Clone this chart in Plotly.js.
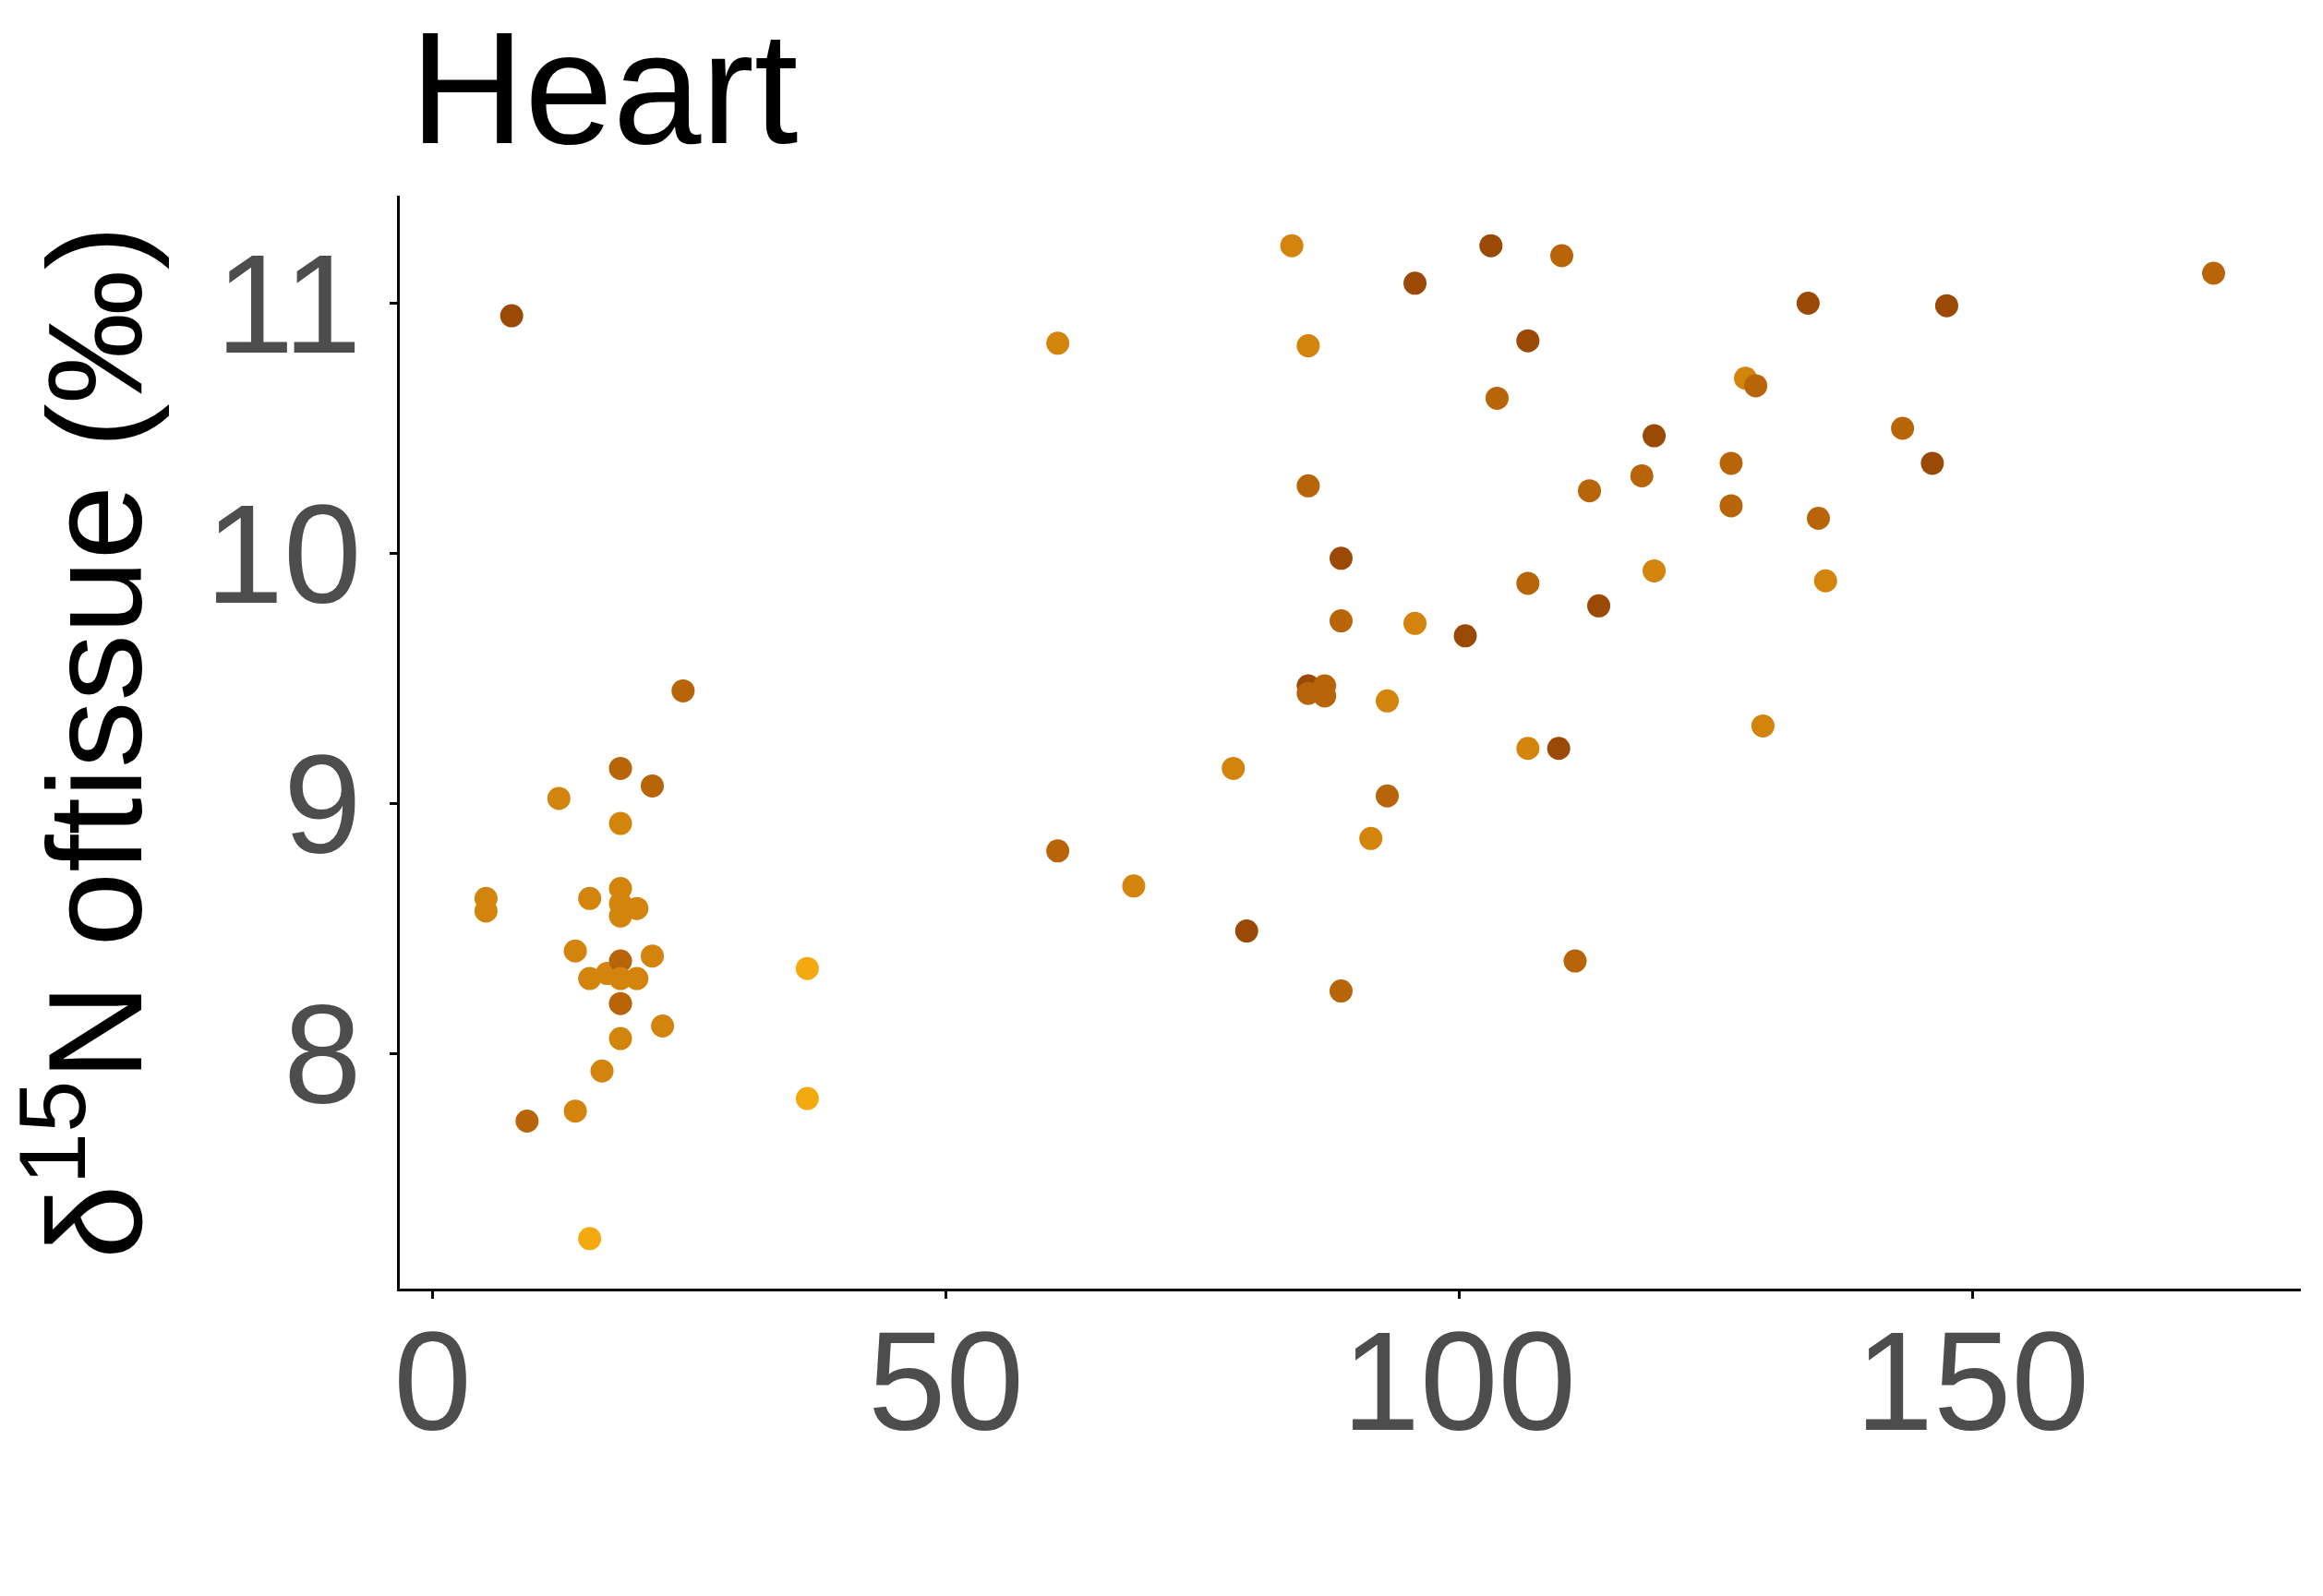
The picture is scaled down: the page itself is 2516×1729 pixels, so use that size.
<!DOCTYPE html>
<html><head><meta charset="utf-8">
<script src="https://cdn.plot.ly/plotly-3.0.1.min.js"></script>
<style>body{margin:0;background:#fff}</style></head>
<body><div id="c" style="width:2516px;height:1729px"></div>
<script>
const xVals=[7.7,5.2,5.2,9.2,12.3,13.9,13.9,15.3,15.3,15.3,16.5,17.0,18.3,18.3,18.3,18.3,18.3,18.3,18.3,18.3,18.3,19.9,19.9,21.4,21.4,22.4,24.4,36.5,36.5,60.9,60.9,68.3,78.0,79.3,83.7,85.3,85.3,85.3,85.3,86.9,86.9,88.5,88.5,88.5,91.4,93.0,93.0,95.7,95.7,100.6,103.1,103.7,106.7,106.7,106.7,109.7,110.0,111.3,112.7,113.6,117.8,119.0,119.0,126.5,126.5,127.9,128.9,129.6,134.0,135.0,135.7,143.2,146.1,147.5,173.5];
const yVals=[10.95,8.62,8.57,7.73,9.02,8.41,7.77,8.62,8.30,7.26,7.93,8.32,9.14,8.92,8.66,8.60,8.55,8.37,8.30,8.20,8.06,8.58,8.30,9.07,8.39,8.11,9.45,8.34,7.82,10.84,8.81,8.67,9.14,8.49,11.23,10.83,10.27,9.47,9.44,9.47,9.43,9.98,9.73,8.25,8.86,9.41,9.03,11.08,9.72,9.67,11.23,10.62,10.85,9.88,9.22,9.22,11.19,8.37,10.25,9.79,10.31,10.47,9.93,10.36,10.19,10.70,10.67,9.31,11.00,10.14,9.89,10.50,10.36,10.99,11.12];
// shade level 0 = dark brown ... 3 = bright yellow
const shade=[0,2,2,1,2,2,2,2,2,3,2,2,1,2,2,2,2,1,2,1,2,2,2,1,2,2,1,3,3,2,1,2,2,0,2,2,1,0,1,1,1,0,1,1,2,2,1,0,2,0,0,1,0,1,2,0,1,1,1,0,1,0,2,1,1,2,1,2,0,1,2,1,0,0,1];
const palette=['#9a4a05','#b8650a','#d2840d','#f2aa10'];
Plotly.newPlot('c',[{x:xVals,y:yVals,mode:'markers',type:'scatter',
 marker:{size:25,color:shade.map(s=>palette[s])}}],{
 width:2516,height:1729,paper_bgcolor:'#fff',plot_bgcolor:'#fff',
 margin:{l:433,r:24,t:212,b:333},
 font:{family:'Liberation Sans, Arial, sans-serif'},
 title:{text:'Heart',x:444/2516,xanchor:'left',xref:'container',y:0.945,yanchor:'middle',font:{size:172,color:'#000'}},
 showlegend:false,
 xaxis:{range:[-3.2,182],tickvals:[0,50,100,150],showgrid:false,zeroline:false,showline:true,linecolor:'#000',linewidth:3,
  ticks:'outside',ticklen:8,tickwidth:3,tickcolor:'#000',ticklabelstandoff:-40,tickfont:{size:152,color:'#4d4d4d'}},
 yaxis:{range:[7.06,11.43],tickvals:[8,9,10,11],showgrid:false,zeroline:false,showline:true,linecolor:'#000',linewidth:3,
  ticks:'outside',ticklen:8,tickwidth:3,tickcolor:'#000',tickfont:{size:152,color:'#4d4d4d'},
  title:{text:'δ<sup>15</sup>N oftissue (‰)',font:{size:145,color:'#000'},standoff:30}}
},{displayModeBar:false});
</script></body></html>
